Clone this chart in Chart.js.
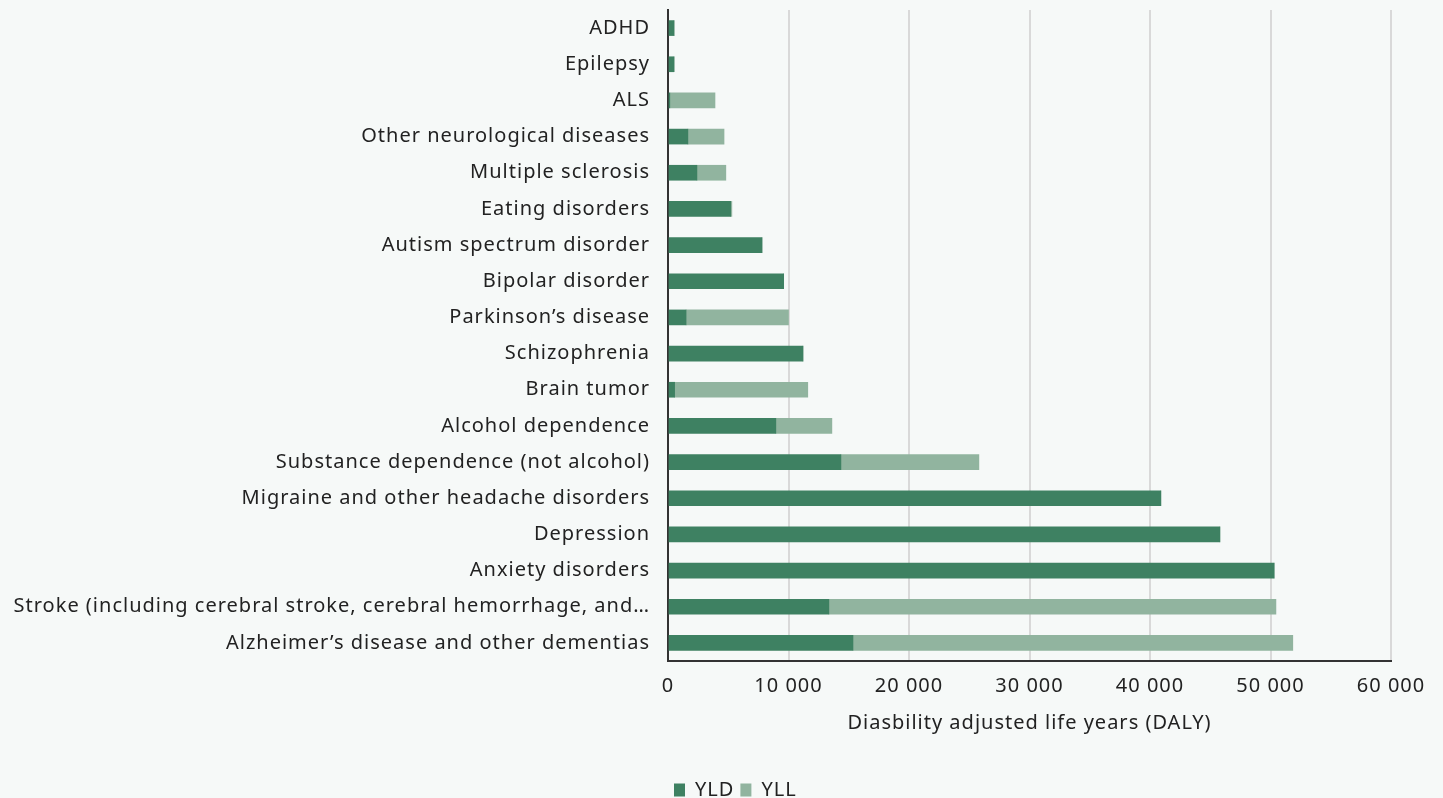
<!DOCTYPE html>
<html>
<head>
<meta charset="utf-8">
<script src="https://cdn.jsdelivr.net/npm/chart.js@4"></script>
<style>
  html, body { margin: 0; padding: 0; background: #f6f9f8; }
  #wrap { width: 1425px; height: 798px; overflow: hidden; }
  canvas { display: block; }
</style>
</head>
<body>
<div id="wrap"><canvas id="dalyChart" width="1443" height="798"></canvas></div>
<script>
var categories = [
  "ADHD",
  "Epilepsy",
  "ALS",
  "Other neurological diseases",
  "Multiple sclerosis",
  "Eating disorders",
  "Autism spectrum disorder",
  "Bipolar disorder",
  "Parkinson\u2019s disease",
  "Schizophrenia",
  "Brain tumor",
  "Alcohol dependence",
  "Substance dependence (not alcohol)",
  "Migraine and other headache disorders",
  "Depression",
  "Anxiety disorders",
  "Stroke (including cerebral stroke, cerebral hemorrhage, and\u2026",
  "Alzheimer\u2019s disease and other dementias",
];

// years lived with disability
var yld = [500, 500, 150, 1650, 2400, 5200, 7800, 9600, 1500, 11200, 550, 8950, 14350, 40900, 45800, 50300, 13350, 15350];
// years of life lost
var yll = [0, 0, 3750, 3000, 2400, 100, 0, 0, 8500, 0, 11050, 4650, 11450, 0, 0, 0, 37100, 36500];

var xTicks = [0, 10000, 20000, 30000, 40000, 50000, 60000];

var font = "'Noto Sans', sans-serif";
var textColor = "#222222";

// wider tracking for all canvas text (set before measuring and drawing)
var spacing = {
  id: "spacing",
  beforeLayout: function (chart) { chart.ctx.letterSpacing = "1px"; },
  beforeDraw: function (chart) { chart.ctx.letterSpacing = "1px"; },
};

var ctx = document.getElementById("dalyChart").getContext("2d");

var MyChart = new Chart(ctx, {
  type: "bar",
  data: {
    labels: categories,
    datasets: [
      {
        label: "YLD",
        data: yld,
        backgroundColor: "#3e8162",
        barThickness: 15,
      },
      {
        label: "YLL",
        data: yll,
        backgroundColor: "#91b49f",
        barThickness: 15,
      },
    ],
  },
  plugins: [spacing],
  options: {
    indexAxis: "y",
    responsive: false,
    animation: false,
    layout: {
      padding: { left: 10, right: 52, top: 10, bottom: -12 },
    },
    scales: {
      x: {
        stacked: true,
        min: 0,
        max: 60000,
        afterBuildTicks: function (scale) {
          scale.ticks = xTicks.map(function (v) { return { value: v }; });
        },
        ticks: {
          color: textColor,
          font: { family: font, size: 20 },
          padding: 13,
          maxRotation: 0,
          callback: function (v) {
            return String(v).replace(/\B(?=(\d{3})+(?!\d))/g, " ");
          },
        },
        grid: {
          color: "#d9d9d9",
          lineWidth: 2,
          drawTicks: false,
        },
        border: { display: true, color: "#333333", width: 2 },
        title: {
          display: true,
          text: "Diasbility adjusted life years (DALY)",
          color: textColor,
          font: { family: font, size: 20 },
          padding: { top: 0, bottom: 39 },
        },
      },
      y: {
        stacked: true,
        afterFit: function (scale) {
          scale.width = 658;
          scale.paddingTop = 0;
          scale.paddingBottom = 0;
        },
        ticks: {
          color: textColor,
          font: { family: font, size: 20 },
          padding: 18,
        },
        grid: { display: false, drawTicks: false },
        border: { display: true, color: "#333333", width: 2 },
      },
    },
    plugins: {
      legend: {
        position: "bottom",
        align: "start",
        fullSize: false,
        labels: {
          color: textColor,
          font: { family: font, size: 20 },
          boxWidth: 11,
          boxHeight: 13,
          padding: 6,
        },
      },
      tooltip: { enabled: false },
    },
  },
});
</script>
</body>
</html>
